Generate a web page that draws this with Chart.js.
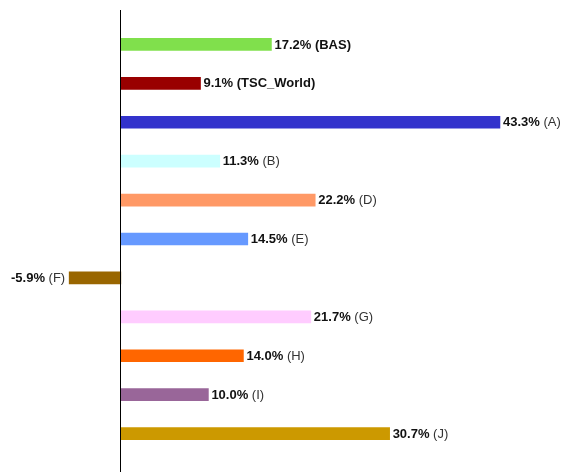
<!DOCTYPE html>
<html>
<head>
<meta charset="utf-8">
<script src="https://cdn.jsdelivr.net/npm/chart.js@4/dist/chart.umd.min.js"></script>
<style>
html,body{margin:0;padding:0;background:#fff;}
#wrap{width:570px;height:472px;position:relative;}
</style>
</head>
<body>
<div id="wrap"><canvas id="c" width="570" height="472"></canvas></div>
<script>
const categories = ["BAS","TSC_World","A","B","D","E","F","G","H","I","J"];
const values = [17.2, 9.1, 43.3, 11.3, 22.2, 14.5, -5.9, 21.7, 14.0, 10.0, 30.7];
const colors = ["#80e04c","#990000","#3333cc","#ccffff","#ff9966","#6699ff","#996600","#ffccff","#ff6600","#996699","#cc9900"];
const boldCategory = [true, true, false, false, false, false, false, false, false, false, false];

const labelPlugin = {
  id: 'barLabels',
  afterDatasetsDraw(chart) {
    const ctx = chart.ctx;
    const meta = chart.getDatasetMeta(0);
    ctx.save();
    ctx.textBaseline = 'middle';
    meta.data.forEach((bar, i) => {
      const v = values[i];
      const valText = v.toFixed(1) + '%';
      const catText = ' (' + categories[i] + ')';
      const boldFont = 'bold 13px "Liberation Sans", Arial, sans-serif';
      const catFont = (boldCategory[i] ? 'bold ' : '') + '13px "Liberation Sans", Arial, sans-serif';
      ctx.font = boldFont;
      const w1 = ctx.measureText(valText).width;
      ctx.font = catFont;
      const w2 = ctx.measureText(catText).width;
      let x;
      if (v >= 0) x = bar.x + 3; else x = bar.x - 4 - w1 - w2;
      const y = bar.y + 0.5;
      ctx.textAlign = 'left';
      ctx.font = boldFont;
      ctx.fillStyle = '#111';
      ctx.fillText(valText, x, y);
      ctx.font = catFont;
      ctx.fillStyle = boldCategory[i] ? '#111' : '#333';
      ctx.fillText(catText, x + w1, y);
    });
    const xs = chart.scales.x;
    const x0 = Math.round(xs.getPixelForValue(0)) - 0.5;
    ctx.strokeStyle = '#000';
    ctx.lineWidth = 1;
    ctx.beginPath();
    ctx.moveTo(x0, 10);
    ctx.lineTo(x0, chart.height);
    ctx.stroke();
    ctx.restore();
  }
};

new Chart(document.getElementById('c'), {
  type: 'bar',
  data: {
    labels: categories,
    datasets: [{
      data: values,
      backgroundColor: colors,
      borderWidth: 0,
      barThickness: 12
    }]
  },
  options: {
    indexAxis: 'y',
    responsive: false,
    animation: false,
    layout: { padding: { top: 25, bottom: 19, left: 0, right: 0 } },
    plugins: { legend: { display: false }, tooltip: { enabled: false } },
    scales: {
      x: { min: -13.8, max: 51.3, display: false, grid: { display: false } },
      y: { display: false, grid: { display: false } }
    }
  },
  plugins: [labelPlugin]
});
</script>
</body>
</html>
